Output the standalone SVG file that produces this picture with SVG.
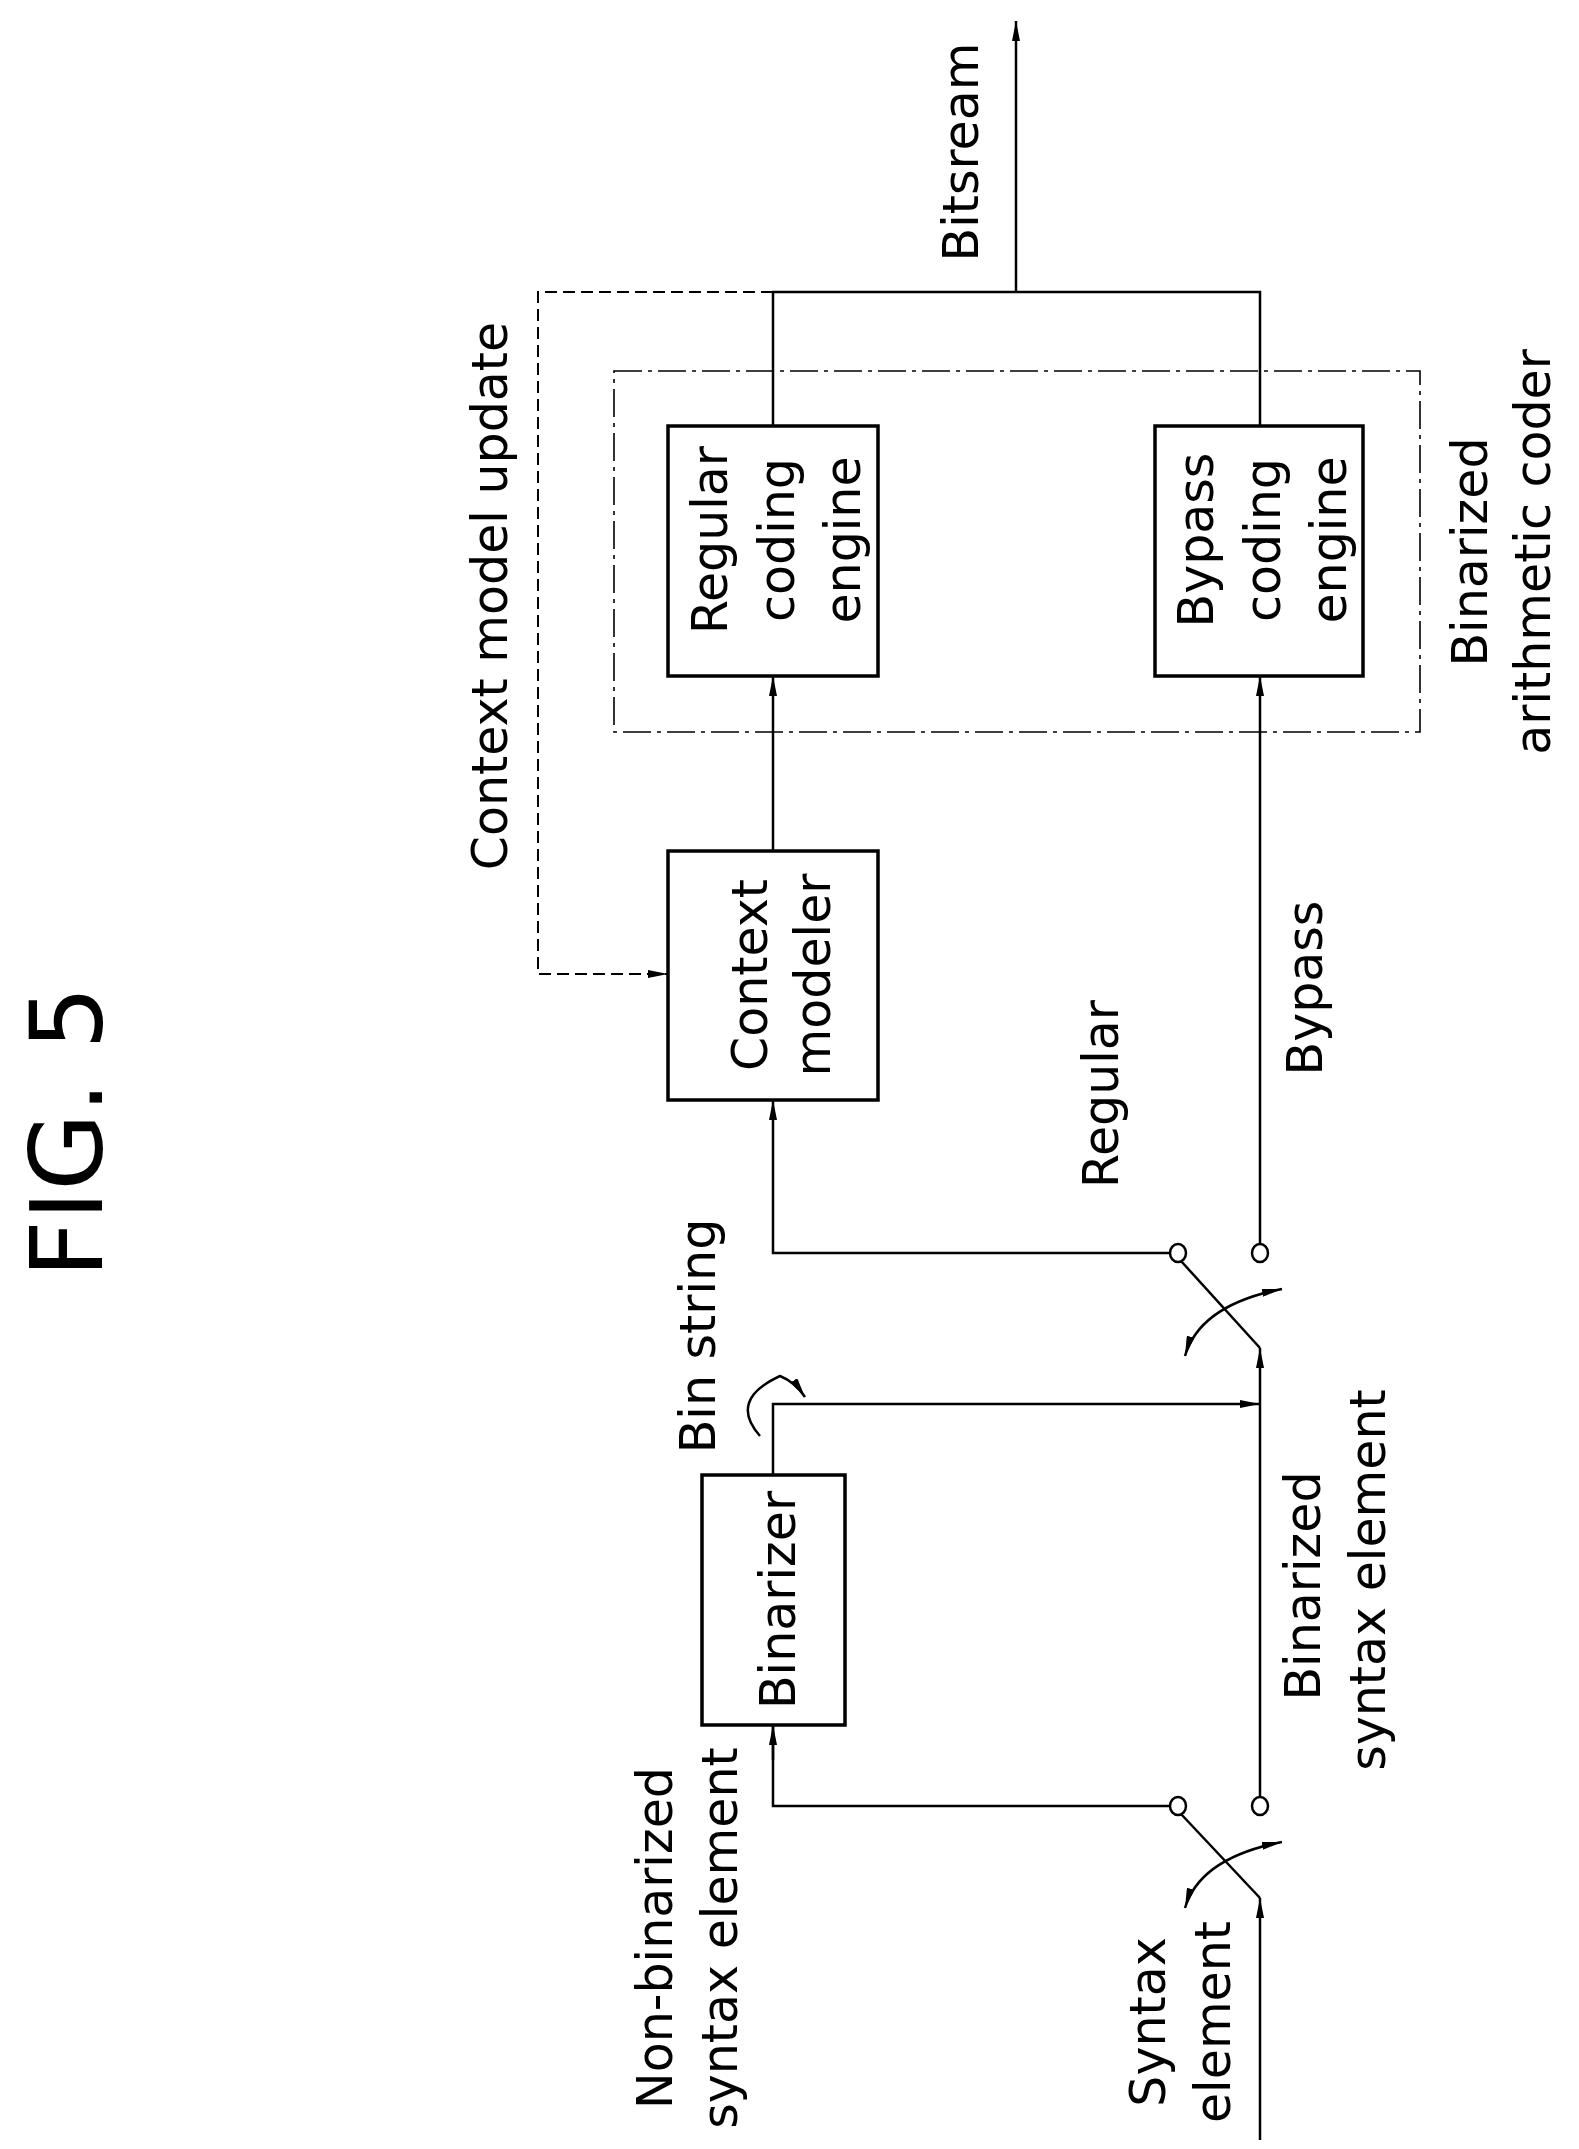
<svg xmlns="http://www.w3.org/2000/svg" width="1579" height="2149" viewBox="0 0 1579 2149">
<style>
.box{fill:#fff;stroke:#000;stroke-width:3.5}
.ln{fill:none;stroke:#000;stroke-width:2.5}
.dash{fill:none;stroke:#000;stroke-width:2;stroke-dasharray:12 6}
.dd{fill:none;stroke:#000;stroke-width:1.6;stroke-dasharray:28 6 4 6}
.c{fill:#fff;stroke:#000;stroke-width:2.5}
text{font-family:"DejaVu Sans",sans-serif;font-size:49px;fill:#000;text-anchor:middle}
</style>
<defs>
<marker id="a" viewBox="0 0 20 8" refX="20" refY="4" markerWidth="20" markerHeight="8" markerUnits="userSpaceOnUse" orient="auto-start-reverse"><path d="M0,0 L20,4 L0,8 Z" fill="#000"/></marker>
</defs>
<text transform="translate(102,1132) rotate(-90)" style="font-size:100px">FIG. 5</text>
<g id="connectors">
<line class="ln" x1="1016" y1="292" x2="1016" y2="21" marker-end="url(#a)"/>
<polyline class="ln" points="773,426 773,292 1260,292 1260,426"/>
<polyline class="dash" points="773,292 538,292 538,974 668,974" marker-end="url(#a)"/>
<line class="ln" x1="773" y1="851" x2="773" y2="676" marker-end="url(#a)"/>
<line class="ln" x1="1260" y1="1245" x2="1260" y2="676" marker-end="url(#a)"/>
<polyline class="ln" points="1170,1253 773,1253 773,1100" marker-end="url(#a)"/>
<line class="ln" x1="1260" y1="1798" x2="1260" y2="1348" marker-end="url(#a)"/>
<line class="ln" x1="1260" y1="1348" x2="1181" y2="1261"/>
<path class="ln" d="M1185,1356 Q1200,1305 1282,1289" marker-start="url(#a)" marker-end="url(#a)"/>
<polyline class="ln" points="773,1475 773,1404 1260,1404" marker-end="url(#a)"/>
<path class="ln" d="M760,1436 Q728,1400 780,1376 Q795,1382 805,1397" marker-end="url(#a)"/>
<polyline class="ln" points="773,1725 773,1806 1170,1806" />
<line class="ln" x1="773" y1="1760" x2="773" y2="1725" marker-end="url(#a)"/>
<line class="ln" x1="1260" y1="2140" x2="1260" y2="1898" marker-end="url(#a)"/>
<line class="ln" x1="1260" y1="1898" x2="1181" y2="1814"/>
<path class="ln" d="M1185,1908 Q1200,1858 1282,1842" marker-start="url(#a)" marker-end="url(#a)"/>
<ellipse class="c" cx="1178" cy="1253" rx="8" ry="9"/>
<ellipse class="c" cx="1260" cy="1253" rx="8" ry="9"/>
<ellipse class="c" cx="1178" cy="1806" rx="8" ry="9"/>
<ellipse class="c" cx="1260" cy="1806" rx="8" ry="9"/>
</g>
<g id="coder">
<rect class="dd" x="614" y="371" width="806" height="361"/>
<text transform="translate(1487,552) rotate(-90)">Binarized</text>
<text transform="translate(1550,552) rotate(-90)">arithmetic coder</text>
</g>
<g id="regular">
<rect class="box" x="668" y="426" width="210" height="250"/>
<text transform="translate(727,540) rotate(-90)">Regular</text>
<text transform="translate(794,540) rotate(-90)">coding</text>
<text transform="translate(860,540) rotate(-90)">engine</text>
</g>
<g id="bypass">
<rect class="box" x="1155" y="426" width="208" height="250"/>
<text transform="translate(1213,540) rotate(-90)">Bypass</text>
<text transform="translate(1280,540) rotate(-90)">coding</text>
<text transform="translate(1346,540) rotate(-90)">engine</text>
</g>
<g id="modeler">
<rect class="box" x="668" y="851" width="210" height="249"/>
<text transform="translate(767,975) rotate(-90)">Context</text>
<text transform="translate(830,975) rotate(-90)">modeler</text>
</g>
<g id="binarizer">
<rect class="box" x="702" y="1475" width="143" height="250"/>
<text transform="translate(795,1600) rotate(-90)">Binarizer</text>
</g>
<g id="labels">
<text transform="translate(978,152) rotate(-90)">Bitsream</text>
<text transform="translate(507,596) rotate(-90)">Context model update</text>
<text transform="translate(1118,1094) rotate(-90)">Regular</text>
<text transform="translate(1322,988) rotate(-90)">Bypass</text>
<text transform="translate(715,1336) rotate(-90)">Bin string</text>
<text transform="translate(1320,1586) rotate(-90)">Binarized</text>
<text transform="translate(1385,1580) rotate(-90)">syntax element</text>
<text transform="translate(672,1938) rotate(-90)">Non-binarized</text>
<text transform="translate(737,1938) rotate(-90)">syntax element</text>
<text transform="translate(1165,2022) rotate(-90)">Syntax</text>
<text transform="translate(1230,2022) rotate(-90)">element</text>
</g>
</svg>
